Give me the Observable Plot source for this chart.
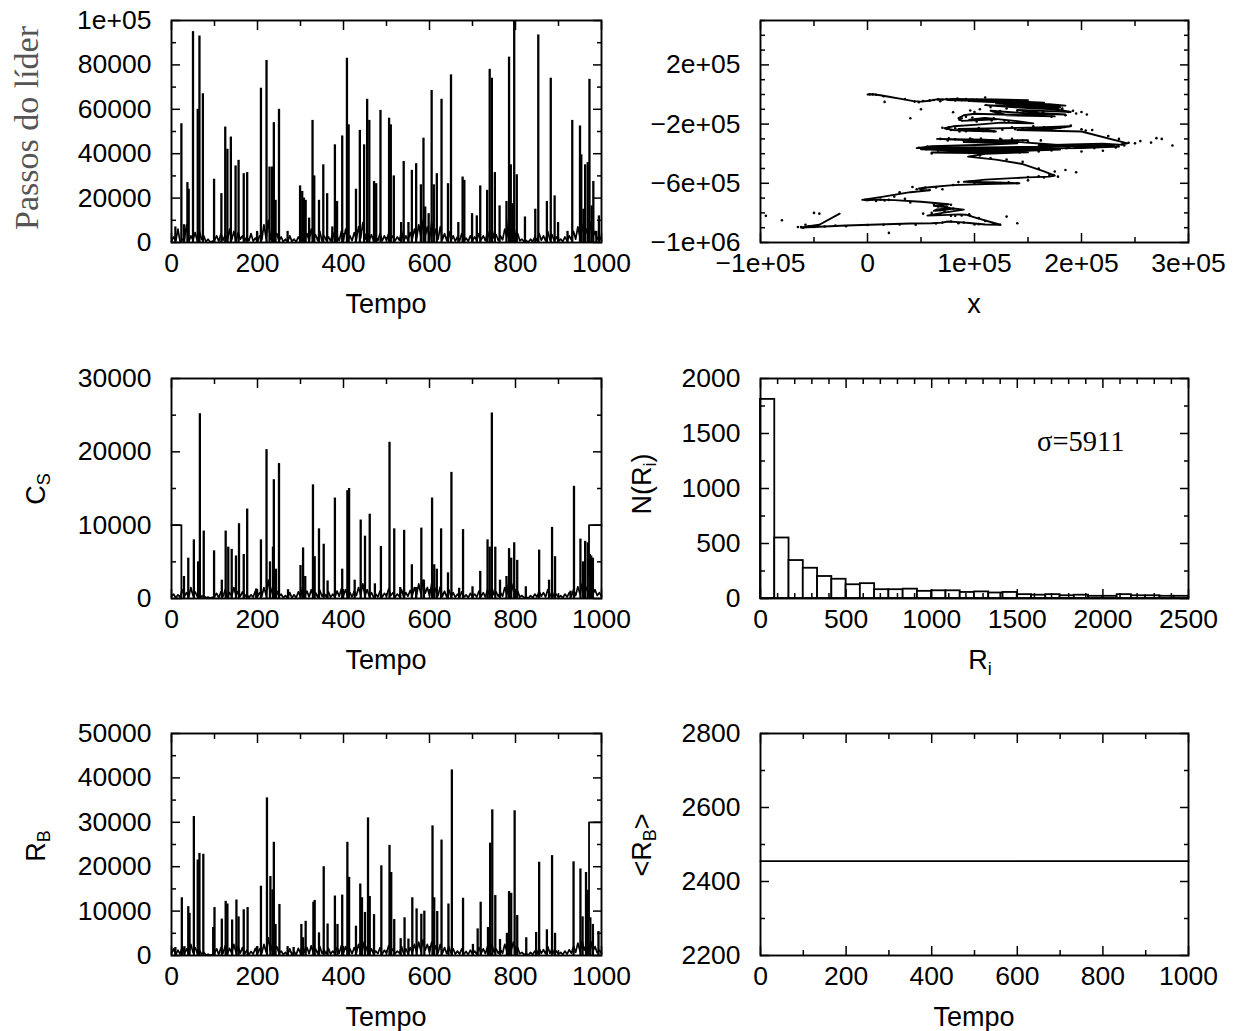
<!DOCTYPE html>
<html><head><meta charset="utf-8">
<script src="https://cdn.jsdelivr.net/npm/d3@7"></script>
<script src="https://cdn.jsdelivr.net/npm/@observablehq/plot@0.6"></script>
<style>
body{margin:0;background:#fff;}
#root{position:relative;width:1239px;height:1031px;overflow:hidden;background:#fff;}
</style></head><body><div id="root"></div><script>
// ---------------- DATA ----------------
// Panel 1: leader steps vs time — spikes [tempo, value]
const passosSpikes = [[9,7000],[23,53500],[29,8000],[37,27000],[40,24000],[50,95000],[61,60000],[65,93000],[73,67000],[99,28500],[116,22000],[125,52000],[130,42000],[138,47500],[149,34500],[156,37000],[168,31000],[176,31500],[199,5000],[208,69500],[221,82000],[228,34000],[234,34000],[238,54000],[242,19000],[250,60000],[270,5000],[299,25500],[304,23000],[308,20000],[312,19000],[320,11000],[328,55000],[332,30000],[343,19000],[353,35000],[362,22000],[374,7000],[380,44000],[385,18500],[397,48000],[408,83000],[412,53000],[429,24000],[438,50500],[448,44000],[455,64500],[460,55000],[471,27500],[476,26500],[486,59500],[506,56000],[510,53000],[517,30000],[534,9000],[540,36500],[551,9000],[559,32500],[569,35500],[580,26000],[586,47000],[590,16000],[598,13000],[605,68500],[610,26000],[617,31000],[628,64500],[643,26500],[650,75500],[667,9000],[677,29500],[681,28000],[699,13000],[710,12000],[718,25500],[734,23500],[740,78000],[745,74000],[752,31500],[763,16500],[779,18500],[785,83500],[789,35000],[793,17500],[797,100000],[803,30500],[822,11500],[846,15000],[853,93500],[873,18500],[882,74000],[891,21000],[899,9000],[921,5000],[932,55000],[950,52500],[953,39500],[958,15000],[962,35000],[968,36000],[972,73500],[977,16500],[981,27500],[988,5000],[994,12000]];
// baseline readings every 5 time units (t = 0..1000)
const baseStep = 5;
const passosBase = [500,2500,800,6000,300,1500,1000,8000,400,3000,1200,4500,600,5000,1500,3000,300,1500,200,600,1000,
3000,500,4000,1000,3500,800,6000,1200,5000,700,4500,1500,3000,500,2500,800,4000,600,2000,300,
3000,1200,8000,2000,10000,1500,6000,3000,4000,800,2500,300,1500,200,3000,500,1500,300,2500,1000,
5000,1500,4000,800,6000,1200,3500,900,5000,700,3000,1000,2500,600,4500,1000,3000,800,5000,1200,
6000,1000,3000,800,4500,1500,7000,2000,9000,1500,5000,1200,3500,600,2500,900,4000,700,3000,1000,
4000,1500,3000,700,2500,1000,5000,600,3000,900,4500,1500,6000,2000,8000,2500,10000,3000,7000,1500,
9000,2000,6000,1500,7000,1200,4000,900,5000,1000,3000,600,2500,800,4000,700,2000,500,3000,800,
2500,1000,4000,1200,3000,800,5000,1500,6000,2000,3500,900,3000,1200,6000,2500,12000,3000,9000,2000,
4000,800,1500,300,800,200,1500,400,2500,800,4000,1000,3000,700,5000,1200,3500,800,2500,600,
1500,400,2500,800,3000,1200,5000,1500,7000,2500,8000,3000,6000,2000,9000,2500,5000,1500,3000,1000];

// Panel 2: leader trajectory (×1000)
const leaderPathK = [[0,0],[5,2],[12,-5],[20,-15],[30,-28],[43,-45],[50,-48],[58,-42],[62,-36],[66,-32],[72,-33],[80,-30],[95,-32],[120,-34],[150,-38],[135,-42],[100,-40],[75,-38],[110,-45],[145,-48],[165,-55],[130,-50],[95,-45],[140,-58],[170,-65],[185,-75],[150,-68],[120,-60],[160,-78],[180,-88],[140,-80],[110,-72],[150,-92],[175,-100],[190,-118],[170,-112],[140,-105],[160,-125],[185,-135],[150,-128],[115,-110],[130,-140],[175,-148],[150,-140],[100,-130],[90,-140],[85,-160],[88,-178],[100,-175],[120,-168],[95,-170],[110,-158],[140,-180],[155,-195],[125,-190],[100,-205],[80,-215],[72,-228],[80,-240],[95,-245],[120,-250],[105,-235],[85,-232],[125,-228],[160,-222],[190,-215],[175,-230],[140,-240],[200,-250],[243,-330],[235,-340],[220,-332],[190,-338],[160,-345],[230,-345],[200,-355],[175,-340],[140,-320],[110,-305],[80,-302],[65,-300],[100,-312],[150,-308],[130,-318],[90,-322],[140,-330],[110,-340],[60,-350],[46,-362],[80,-360],[130,-356],[170,-352],[210,-345],[235,-352],[200,-362],[150,-365],[110,-370],[70,-372],[50,-370],[90,-380],[140,-378],[180,-372],[130,-385],[80,-388],[60,-392],[100,-395],[150,-390],[110,-400],[94,-420],[120,-440],[145,-470],[165,-520],[175,-548],[170,-555],[150,-560],[110,-575],[90,-590],[120,-595],[142,-600],[110,-605],[80,-612],[60,-625],[48,-635],[52,-645],[58,-648],[40,-660],[15,-690],[-5,-712],[2,-714],[10,-710],[25,-714],[50,-725],[76,-742],[68,-748],[62,-752],[72,-760],[78,-768],[65,-776],[62,-786],[70,-782],[80,-770],[90,-778],[70,-800],[56,-818],[70,-815],[85,-810],[92,-812],[100,-830],[124,-880],[110,-878],[95,-868],[85,-862],[75,-858],[70,-866],[60,-870],[40,-872],[10,-878],[-20,-885],[-50,-895],[-62,-899],[-58,-894],[-45,-880],[-26,-805]];
const leaderDotsK = [[2,2],[5,1],[8,-2],[15,-12],[16,-50],[35,-30],[44,-48],[48,-52],[52,-44],[58,-40],[62,-37],[66,-33],[70,-35],[74,-31],[78,-36],[82,-40],[88,-38],[92,-30],[95,-42],[98,-36],[105,-40],[110,-20],[112,-45],[118,-48],[122,-42],[125,-52],[128,-60],[132,-55],[136,-48],[140,-65],[145,-58],[148,-70],[152,-75],[155,-62],[158,-80],[162,-88],[168,-92],[172,-100],[178,-90],[182,-105],[188,-118],[195,-128],[200,-118],[205,-135],[185,-140],[172,-150],[160,-130],[150,-130],[140,-110],[130,-95],[115,-85],[105,-100],[100,-118],[92,-150],[88,-160],[98,-155],[108,-165],[118,-160],[128,-175],[140,-190],[80,-120],[40,-160],[50,-100],
[70,-225],[74,-232],[78,-240],[82,-228],[88,-236],[92,-248],[98,-240],[104,-226],[112,-236],[118,-248],[126,-238],[135,-222],[145,-228],[155,-215],[165,-222],[180,-226],[190,-210],[200,-235],[210,-240],[225,-280],[235,-300],[250,-330],[255,-315],[265,-325],[275,-300],[285,-345],[270,-295],[68,-300],[75,-310],[82,-302],[90,-315],[98,-305],[106,-298],[115,-312],[125,-305],[135,-300],[145,-310],[150,-320],[48,-360],[55,-370],[62,-358],[70,-368],[78,-380],[85,-362],[92,-372],[100,-360],[108,-378],[115,-365],[122,-385],[130,-370],[138,-380],[145,-362],[152,-375],[160,-385],[168,-358],[178,-350],[186,-362],[195,-345],[205,-352],[215,-340],[225,-348],[232,-358],[240,-345],[200,-385],[220,-380],[60,-398],[95,-395],[105,-412],[115,-430],[130,-440],[145,-455],[160,-500],[175,-520],[185,-510],[195,-525],[170,-545],[178,-555],[165,-560],[150,-558],[140,-600],[132,-594],[118,-596],[105,-590],[95,-590],[85,-592],[150,-580],
[42,-625],[46,-640],[52,-632],[58,-645],[64,-628],[70,-640],[80,-612],[25,-690],[30,-660],[5,-708],[0,-715],[8,-720],[12,-710],[20,-712],[35,-705],[40,-730],[62,-740],[70,-750],[74,-758],[78,-745],[80,-770],[65,-780],[72,-790],[82,-820],[60,-800],[52,-805],[88,-818],[96,-820],[104,-835],[110,-855],[118,-872],[124,-880],[100,-878],[90,-865],[85,-870],[78,-858],[70,-865],[30,-878],[15,-880],[0,-882],[-20,-890],[-40,-892],[-50,-895],[-65,-895],[-60,-900],[-55,-890],[-58,-880],[-50,-800],[-45,-805],[-95,-820],[-80,-850],[45,-880],[20,-935],[130,-825],[140,-870],[95,-810],
[68,-45],[84,-28],[102,-35],[116,-38],[128,-44],[142,-52],[158,-58],[166,-70],[176,-78],[182,-95],[192,-110],[164,-120],[146,-118],[124,-112],[96,-108],[86,-170],[102,-182],[116,-176],[132,-186],[76,-222],[86,-250],[108,-246],[138,-234],[172,-232],[184,-220],[204,-244],[76,-296],[96,-298],[124,-300],[140,-314],[162,-310],[56,-352],[66,-378],[84,-372],[96,-384],[112,-390],[128,-362],[142,-392],[156,-360],[172,-378],[188,-356],[212,-362],[226,-340],[238,-338],[244,-326],[174,-545],[160,-552],[124,-598],[100,-598],[54,-628],[50,-650],[-2,-712],[16,-716],[66,-756],[76,-772],[68,-812],[78,-820],[104,-876],[64,-872],[-30,-886],[-62,-896]];

// Panel 3: C_S vs time
const csSpikes = [[29,3000],[39,5500],[52,8000],[62,5000],[66,25200],[75,9200],[99,6500],[117,2500],[126,9200],[132,7000],[140,6700],[150,5800],[157,10200],[168,6000],[176,12200],[197,1300],[208,8000],[221,20300],[229,5000],[236,7000],[238,16200],[243,4000],[250,18400],[271,1200],[300,4500],[306,6900],[311,3000],[329,15500],[333,5700],[343,9500],[354,7400],[363,2400],[380,13700],[397,4000],[409,14700],[413,15000],[426,2500],[440,10700],[450,8500],[461,11500],[473,2000],[487,7100],[507,21300],[518,9500],[532,1500],[541,9300],[559,4600],[569,1500],[581,9600],[587,2500],[606,13700],[611,4600],[617,4000],[627,9500],[643,3500],[651,17200],[669,1400],[678,9400],[700,1600],[718,3700],[735,8000],[740,7000],[745,25300],[753,7000],[764,2500],[779,3000],[785,6800],[790,5500],[797,7600],[804,5200],[824,1600],[855,6600],[878,2500],[885,9700],[892,5700],[928,1000],[936,15300],[951,8100],[957,5000],[962,7800],[968,7600],[973,6000],[976,5800],[980,5500]];
const csHead = [[0,10000],[23,10000],[23,0]];
const csTail = [[971,3000],[971,10000],[1000,10000]];
const csBase = [300,600,100,500,200,1200,300,800,200,1500,400,900,300,700,200,400,100,200,50,150,300,
700,100,900,300,1200,200,800,300,1500,400,1000,300,900,200,600,100,500,200,1000,300,
800,300,1500,500,2500,600,1500,800,1000,300,600,100,400,50,800,100,500,100,900,300,
1500,400,1000,200,1200,300,800,200,1100,300,700,200,900,150,600,200,1000,300,1300,400,
1200,300,800,200,1000,400,1500,500,2000,400,1200,300,800,150,600,200,1000,200,700,300,
1300,400,800,200,600,300,1200,200,800,300,1100,400,1500,500,2000,600,2500,700,1500,400,
2000,500,1400,400,1600,300,1000,200,1200,300,800,150,600,200,900,200,500,100,700,200,
600,200,1000,300,800,200,1200,400,1500,500,900,300,800,300,1500,600,2500,800,2000,500,
1000,200,400,100,200,50,400,100,600,200,1000,300,800,200,1200,300,900,200,600,150,
400,100,600,200,800,300,1200,400,1600,600,2000,700,1500,500,2000,600,1200,400,800,300];

// Panel 4: histogram of R_i
const histRange = [0, 2500];
const histCounts = [1810,550,345,275,200,175,125,135,80,80,85,65,70,70,55,60,50,55,35,30,35,25,30,20,20,35,25,25,20,20];
const sigmaLabel = "σ=5911";

// Panel 5: R_B vs time
const rbSpikes = [[9,1800],[24,13000],[30,2000],[39,11000],[42,9500],[52,31300],[61,21500],[65,23000],[74,22800],[97,6300],[100,10800],[117,8200],[126,12200],[130,11600],[141,8000],[151,12500],[156,8700],[168,10300],[177,10800],[199,2000],[208,15600],[222,35500],[230,17800],[235,14800],[238,25500],[242,7000],[251,11500],[270,2000],[284,1800],[302,7000],[306,4000],[312,7700],[330,12000],[333,12400],[343,5100],[354,20000],[363,7100],[380,13400],[386,7000],[397,13600],[409,25500],[413,17600],[429,6600],[439,16100],[443,13000],[450,9700],[457,31000],[461,13300],[471,9200],[488,20200],[507,24800],[511,18700],[518,8100],[533,3800],[542,8500],[551,3700],[560,13000],[570,10500],[581,9300],[588,10000],[607,29200],[611,13000],[618,9900],[628,26000],[644,11600],[652,41800],[678,12900],[701,2500],[712,6000],[719,12000],[736,6300],[741,25300],[746,32800],[753,13500],[764,3600],[780,5000],[785,14400],[790,14000],[798,32600],[804,9000],[825,4000],[848,5200],[855,21000],[873,5800],[885,22500],[892,5000],[935,21100],[951,19500],[956,8700],[964,18700],[969,14700],[974,8500],[980,7000],[993,5400]];
const rbTail = [[971,8000],[971,30000],[1000,30000]];
const rbBase = [500,1500,200,1200,300,2000,500,1500,300,2500,700,1800,500,1200,300,700,100,300,50,200,600,
1500,200,1800,500,2200,400,1600,500,2500,700,2000,500,1800,300,1200,200,900,300,1600,400,
1500,500,2500,800,4000,1000,2500,1200,2000,500,1000,200,700,100,1500,200,900,200,1600,500,
2500,700,1800,400,2200,500,1500,400,2000,500,1200,300,1600,300,1000,400,1800,500,2200,600,
2000,500,1500,400,1800,600,2500,800,3000,700,2000,500,1500,300,1000,400,1800,300,1200,500,
2200,700,1500,400,1000,500,2000,400,1500,500,1800,600,2500,800,3000,1000,3500,1200,2500,700,
3000,800,2200,600,2500,500,1800,400,2000,500,1500,300,1000,300,1500,300,900,200,1200,300,
1000,300,1800,500,1500,400,2000,600,2500,800,1500,500,1300,500,2500,1000,4000,1200,3000,800,
1800,400,700,200,400,100,700,200,1000,300,1600,500,1300,400,2000,500,1500,400,1000,300,
700,200,1000,300,1300,500,2000,700,2800,1000,3200,1200,2500,800,3200,1000,2000,600,1200,500];

// Panel 6: <R_B> vs time
const rbMeanT = [0, 1000];
const rbMean = [2455, 2455];

// Ticks
const tempoMajor = [0,200,400,600,800,1000];
const tempoMinor = [100,300,500,700,900];
const passosMajor = [0,20000,40000,60000,80000,100000];
const passosLabels = ["0","20000","40000","60000","80000","1e+05"];
const passosMinor = [10000,30000,50000,70000,90000];
const xTrajMajor = [-1e5,0,1e5,2e5,3e5];
const xTrajLabels = ["−1e+05","0","1e+05","2e+05","3e+05"];
const xTrajMinor = [-5e4,5e4,1.5e5,2.5e5];
const yTrajMajor = [-1e6,-6e5,-2e5,2e5];
const yTrajLabels = ["−1e+06","−6e+05","−2e+05","2e+05"];
const yTrajMinor = [-9e5,-8e5,-7e5,-5e5,-4e5,-3e5,-1e5,0,1e5,3e5,4e5,5e5];
const csMajor = [0,10000,20000,30000];
const csMinor = [5000,15000,25000];
const riMajor = [0,500,1000,1500,2000,2500];
const riMinor = [100,200,300,400,600,700,800,900,1100,1200,1300,1400,1600,1700,1800,1900,2100,2200,2300,2400];
const nMajor = [0,500,1000,1500,2000];
const nMinor = [250,750,1250,1750];
const rbMajor = [0,10000,20000,30000,40000,50000];
const rbMinor = [5000,15000,25000,35000,45000];
const rbmMajor = [2200,2400,2600,2800];
const rbmMinor = [2300,2500,2700];

// ---------------- DRAWING ----------------
const root = document.getElementById("root");
const ML = 140, MR = 50, MT = 16, MB = 50;
const FONT = "'Liberation Sans', Arial, sans-serif";

function lbl(values, labels) { return d => { const i = values.indexOf(d); return i >= 0 ? labels[i] : String(d); }; }

function panel(o) {
  const tk = {label: null, stroke: "black", strokeWidth: 1.5, tickFormat: () => ""};
  const marks = [
    ...o.marks,
    Plot.axisX(o.xMajor, {...tk, anchor: "bottom", tickSize: 9, insetBottom: 9}),
    Plot.axisX(o.xMajor, {...tk, anchor: "top", tickSize: 9, insetTop: 9}),
    Plot.axisX(o.xMinor, {...tk, anchor: "bottom", tickSize: 5, insetBottom: 5}),
    Plot.axisX(o.xMinor, {...tk, anchor: "top", tickSize: 5, insetTop: 5}),
    Plot.axisY(o.yMajor, {...tk, anchor: "left", tickSize: 9, insetLeft: 9}),
    Plot.axisY(o.yMajor, {...tk, anchor: "right", tickSize: 9, insetRight: 9}),
    Plot.axisY(o.yMinor, {...tk, anchor: "left", tickSize: 5, insetLeft: 5}),
    Plot.axisY(o.yMinor, {...tk, anchor: "right", tickSize: 5, insetRight: 5}),
    Plot.axisX(o.xMajor, {anchor: "bottom", tickSize: 0, tickPadding: 11, tickFormat: o.xFmt, label: null, fill: "black"}),
    Plot.axisY(o.yMajor, {anchor: "left", tickSize: 0, tickPadding: 20, tickFormat: o.yFmt, label: null, fill: "black"}),
    Plot.frame({stroke: "black", strokeWidth: 1.9})
  ];
  const chart = Plot.plot({
    width: o.w + ML + MR, height: o.h + MT + MB,
    marginLeft: ML, marginRight: MR, marginTop: MT, marginBottom: MB,
    x: {domain: o.xDomain}, y: {domain: o.yDomain},
    style: {fontFamily: FONT, fontSize: "26.5px", color: "black", background: "transparent", overflow: "visible"},
    marks
  });
  chart.style.position = "absolute";
  chart.style.left = (o.left - ML) + "px";
  chart.style.top = (o.top - MT) + "px";
  chart.style.maxWidth = "none";
  root.appendChild(chart);
}

const seriesMarks = (spikes, base, extra) => [
  Plot.line(base.map((v, i) => [i * baseStep, v]), {x: d => d[0], y: d => d[1], stroke: "black", strokeWidth: 1.7}),
  Plot.ruleX(spikes, {x: d => d[0], y1: 0, y2: d => d[1], stroke: "black", strokeWidth: 2.3}),
  ...extra.map(e => Plot.line(e, {x: d => d[0], y: d => d[1], stroke: "black", strokeWidth: 1.8}))
];

// Panel 1
panel({left: 171, top: 20, w: 430, h: 222, xDomain: [0, 1000], yDomain: [0, 100000],
  xMajor: tempoMajor, xMinor: tempoMinor, yMajor: passosMajor, yMinor: passosMinor,
  xFmt: d => String(d), yFmt: lbl(passosMajor, passosLabels),
  marks: seriesMarks(passosSpikes, passosBase, [])});

// Panel 2
panel({left: 760, top: 20, w: 428, h: 222, xDomain: [-1e5, 3e5], yDomain: [-1e6, 5e5],
  xMajor: xTrajMajor, xMinor: xTrajMinor, yMajor: yTrajMajor, yMinor: yTrajMinor,
  xFmt: lbl(xTrajMajor, xTrajLabels), yFmt: lbl(yTrajMajor, yTrajLabels),
  marks: [
    Plot.line(leaderPathK, {x: d => d[0] * 1000, y: d => d[1] * 1000, stroke: "black", strokeWidth: 1.9}),
    Plot.dot(leaderDotsK, {x: d => d[0] * 1000, y: d => d[1] * 1000, r: 1.3, fill: "black", stroke: "none"})
  ]});

// Panel 3
panel({left: 171, top: 378, w: 430, h: 220, xDomain: [0, 1000], yDomain: [0, 30000],
  xMajor: tempoMajor, xMinor: tempoMinor, yMajor: csMajor, yMinor: csMinor,
  xFmt: d => String(d), yFmt: d => String(d),
  marks: seriesMarks(csSpikes, csBase, [csHead, csTail])});

// Panel 4
const binW = (histRange[1] - histRange[0]) / histCounts.length;
const hist = histCounts.map((c, i) => ({x1: histRange[0] + i * binW, x2: histRange[0] + (i + 1) * binW, n: c}));
panel({left: 760, top: 378, w: 428, h: 220, xDomain: [0, 2500], yDomain: [0, 2000],
  xMajor: riMajor, xMinor: riMinor, yMajor: nMajor, yMinor: nMinor,
  xFmt: d => String(d), yFmt: d => String(d),
  marks: [
    Plot.rectY(hist, {x1: "x1", x2: "x2", y: "n", fill: "white", stroke: "black", strokeWidth: 1.8}),
    Plot.text([sigmaLabel], {frameAnchor: "top-right", textAnchor: "end", lineAnchor: "middle", dx: -64, dy: 63, fontFamily: "'Liberation Serif', 'Times New Roman', serif", fontSize: 28.5, fill: "black"})
  ]});

// Panel 5
panel({left: 171, top: 733, w: 430, h: 222, xDomain: [0, 1000], yDomain: [0, 50000],
  xMajor: tempoMajor, xMinor: tempoMinor, yMajor: rbMajor, yMinor: rbMinor,
  xFmt: d => String(d), yFmt: d => String(d),
  marks: seriesMarks(rbSpikes, rbBase, [rbTail])});

// Panel 6
panel({left: 760, top: 733, w: 428, h: 222, xDomain: [0, 1000], yDomain: [2200, 2800],
  xMajor: tempoMajor, xMinor: tempoMinor, yMajor: rbmMajor, yMinor: rbmMinor,
  xFmt: d => String(d), yFmt: d => String(d),
  marks: [Plot.line(rbMeanT.map((t, i) => [t, rbMean[i]]), {x: d => d[0], y: d => d[1], stroke: "black", strokeWidth: 1.8})]});

// Axis titles
const ov = document.createElementNS("http://www.w3.org/2000/svg", "svg");
ov.setAttribute("width", 1239); ov.setAttribute("height", 1031);
ov.style.cssText = "position:absolute;left:0;top:0;pointer-events:none;font-family:" + FONT + ";font-size:27px";
ov.innerHTML = `
<text x="386" y="313" text-anchor="middle">Tempo</text>
<text x="974" y="313" text-anchor="middle">x</text>
<text x="386" y="669" text-anchor="middle">Tempo</text>
<text x="980" y="669" text-anchor="middle">R<tspan font-size="18" dy="6">i</tspan></text>
<text x="386" y="1026" text-anchor="middle">Tempo</text>
<text x="974" y="1026" text-anchor="middle">Tempo</text>
<text transform="translate(38,128) rotate(-90)" text-anchor="middle" font-family="'Liberation Serif','Times New Roman',serif" font-size="34" fill="#555">Passos do líder</text>
<text transform="translate(45,489) rotate(-90)" text-anchor="middle">C<tspan font-size="18" dy="5">S</tspan></text>
<text transform="translate(45,846) rotate(-90)" text-anchor="middle">R<tspan font-size="18" dy="5">B</tspan></text>
<text transform="translate(651,484) rotate(-90)" text-anchor="middle">N(R<tspan font-size="18" dy="5">i</tspan><tspan dy="-5">)</tspan></text>
<text transform="translate(651,845) rotate(-90)" text-anchor="middle">&lt;R<tspan font-size="18" dy="5">B</tspan><tspan dy="-5">&gt;</tspan></text>
`;
root.appendChild(ov);
</script></body></html>
